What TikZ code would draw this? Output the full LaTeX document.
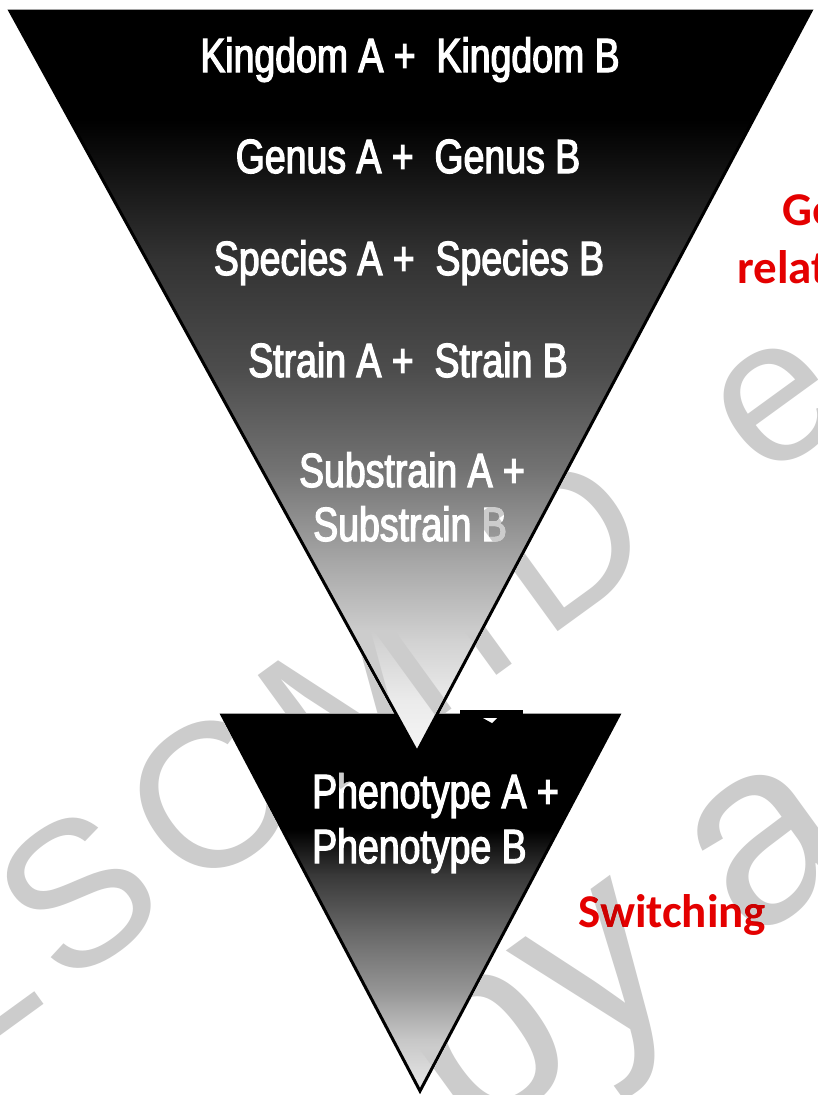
\documentclass[tikz,border=0pt]{standalone}
\usepackage{fontspec}
\setmainfont{Liberation Sans}
\newfontfamily\condfont[FakeStretch=0.78,FakeBold=2.6]{Liberation Sans}
\newfontfamily\calfont{Carlito}
\newfontfamily\wmfont[LetterSpace=10]{Liberation Sans}
\newfontfamily\wmfontb{Liberation Sans}
\definecolor{wmgray}{gray}{0.80}
\definecolor{redtxt}{RGB}{228,0,0}
\begin{document}
\begin{tikzpicture}[x=1pt,y=-1pt,
  lvl/.style={text=white, font=\condfont\fontsize{48}{54}\selectfont, anchor=base, inner sep=0pt},
  lvlleft/.style={lvl, anchor=base west},
  redlbl/.style={text=redtxt, font=\calfont\bfseries\fontsize{47}{55}\selectfont, anchor=base west, inner sep=0pt},
  wm/.style={text=wmgray, font=\wmfont\fontsize{205}{205}\selectfont, rotate=36, anchor=base west, inner sep=0pt},
  wmb/.style={wm, font=\wmfontb\fontsize{260}{260}\selectfont},
  triedge/.style={draw=black, line width=3pt, line join=miter}
]
\useasboundingbox (0,0) rectangle (817,1095);
\fill[white] (0,0) rectangle (817,1095);
\begin{scope}
\clip (0,0) rectangle (817,1095);
% corner points of the two funnels
\coordinate (A1) at (10,11);
\coordinate (A2) at (811,11);
\coordinate (A3) at (417,752);
\coordinate (B1) at (222,715);
\coordinate (B2) at (619,715);
\coordinate (B3) at (420,1091);

% lower funnel
\begin{scope}
\clip (B1) -- (B2) -- (B3) -- cycle;
\foreach \ya/\ca/\yb/\cb in {710/100/830/100, 830/100/875/78, 875/78/930/60, 930/60/990/42, 990/42/1040/22, 1040/22/1095/8}
  {\shade[top color=black!\ca, bottom color=black!\cb] (200,{\ya-0.5}) rectangle (640,\yb);}
\end{scope}
\draw[triedge] (B1) -- (B2) -- (B3) -- cycle;

% upper funnel
\begin{scope}
\clip (A1) -- (A2) -- (A3) -- cycle;
\foreach \ya/\ca/\yb/\cb in {5/100/120/100, 120/100/170/93, 170/93/260/80, 260/80/370/70, 370/70/470/55, 470/55/560/35, 560/35/640/18, 640/18/700/8, 700/8/760/3}
  {\shade[top color=black!\ca, bottom color=black!\cb] (0,{\ya-0.5}) rectangle (817,\yb);}
\end{scope}
\draw[triedge] (A1) -- (A2) -- (A3) -- cycle;

% small dark mark at the top of the lower funnel
\fill[black] (460,710) rectangle (523,717);
\fill[white] (483,718) -- (497,718) -- (492,723) -- cycle;

% level labels
\node[lvl] (kingdom) at (410,72) {Kingdom A + \ Kingdom B};
\node[lvl] (genus) at (408,173) {Genus A + \ Genus B};
\node[lvl] (species) at (409,275) {Species A + \ Species B};
\node[lvl] (strain) at (408,377) {Strain A + \ Strain B};
\node[lvl] (substrainA) at (412,487) {Substrain A +};
\node[lvl] (substrainB) at (410,541) {Substrain B};
\node[lvlleft] (phenoA) at (312,808) {Phenotype A +};
\node[lvlleft] (phenoB) at (312,863) {Phenotype B};

% red side labels
\node[redlbl] (ge) at (782,225) {Ge};
\node[redlbl] (relat) at (737,283) {relat};
\node[redlbl] (switching) at (578,927) {Switching};

% watermark
\begin{scope}[blend mode=darken]
\node[wm] (wmE) at (-60,1080) {E};
\node[wm] (wmA) at (-47,1071) {\phantom{E}SCMID\hspace{45pt} e};
\node[wmb] (wmB) at (469,1148) {by a};
\end{scope}
\end{scope}
\end{tikzpicture}
\end{document}
